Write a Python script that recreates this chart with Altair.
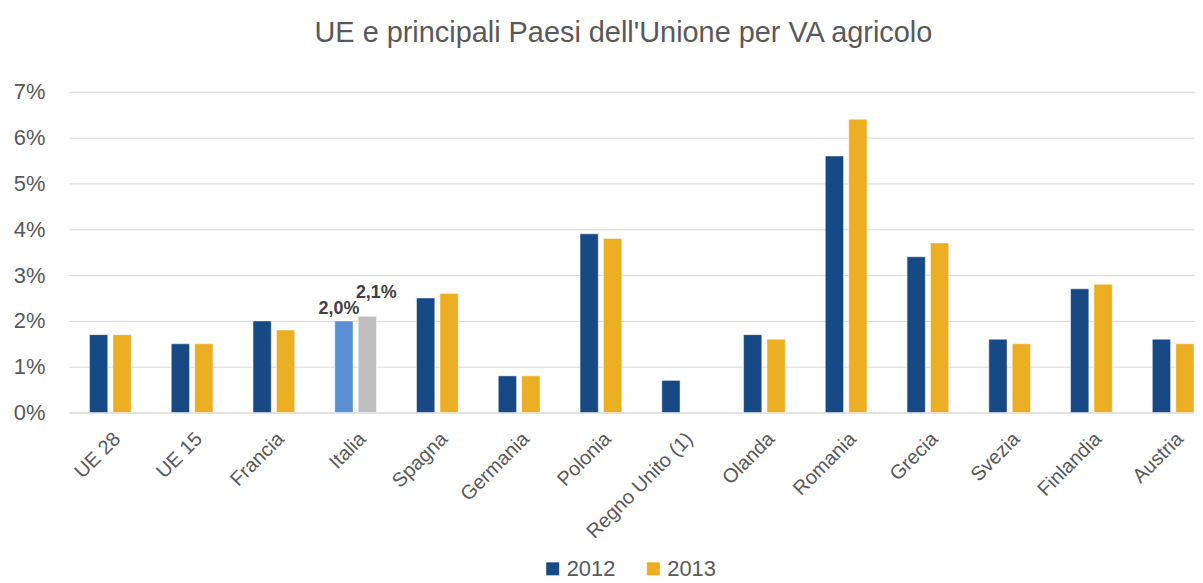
import altair as alt
import pandas as pd

categories = ["UE 28", "UE 15", "Francia", "Italia", "Spagna", "Germania", "Polonia",
              "Regno Unito (1)", "Olanda", "Romania", "Grecia", "Svezia", "Finlandia", "Austria"]
va_2012 = [1.7, 1.5, 2.0, 2.0, 2.5, 0.8, 3.9, 0.7, 1.7, 5.6, 3.4, 1.6, 2.7, 1.6]
va_2013 = [1.7, 1.5, 1.8, 2.1, 2.6, 0.8, 3.8, None, 1.6, 6.4, 3.7, 1.5, 2.8, 1.5]
years = ["2012", "2013"]
highlight = "Italia"

rows = []
for c, a, b in zip(categories, va_2012, va_2013):
    for y, v in zip(years, [a, b]):
        if v is None:
            continue
        key = ("Italia " + y) if c == highlight else y
        label = (f"{v:.1f}".replace(".", ",") + "%") if c == highlight else ""
        rows.append({"Paese": c, "Anno": y, "VA": v, "key": key, "label": label})
df = pd.DataFrame(rows)

FONT = "Liberation Sans"
GREY = "#595959"

x = alt.X("Paese:N", sort=categories, title=None,
          scale=alt.Scale(paddingInner=0.49, paddingOuter=0.127, align=1),
          axis=alt.Axis(labelAngle=-45, labelFontSize=20, labelColor=GREY,
                        labelFont=FONT, ticks=False, domainColor="#d9d9d9",
                        labelPadding=16))
xo = alt.XOffset("Anno:N", sort=years, scale=alt.Scale(paddingInner=0.22))
y = alt.Y("VA:Q", title=None,
          scale=alt.Scale(domain=[0, 7]),
          axis=alt.Axis(values=[0, 1, 2, 3, 4, 5, 6, 7], labelExpr="datum.value + '%'",
                        labelFontSize=22, labelColor=GREY, labelFont=FONT,
                        ticks=False, domain=False, gridColor="#d9d9d9",
                        labelPadding=24))

bars = alt.Chart(df).mark_bar(stroke="#ffffff", strokeWidth=0.8, strokeOpacity=0.6).encode(
    x=x, xOffset=xo, y=y,
    color=alt.Color("key:N",
                    scale=alt.Scale(domain=["2012", "2013", "Italia 2012", "Italia 2013"],
                                    range=["#174A84", "#ECAE22", "#5B8FD6", "#BFBFBF"]),
                    legend=alt.Legend(values=["2012", "2013"], orient="none",
                                      legendX=475, legendY=468, title=None,
                                      direction="horizontal", symbolType="square",
                                      symbolSize=170, labelFontSize=22, labelColor=GREY,
                                      labelFont=FONT, columnPadding=27, symbolStrokeWidth=0,
                                      labelOffset=3))
)

lab12 = alt.Chart(df).transform_filter(
    (alt.datum.label != "") & (alt.datum.Anno == "2012")
).mark_text(fontSize=18, fontWeight="bold", color="#404040", font=FONT,
            baseline="bottom", dx=-5, dy=-3).encode(
    x=x, xOffset=xo, y=y, text="label:N")

lab13 = alt.Chart(df).transform_filter(
    (alt.datum.label != "") & (alt.datum.Anno == "2013")
).mark_text(fontSize=18, fontWeight="bold", color="#404040", font=FONT,
            baseline="bottom", dx=9, dy=-14).encode(
    x=x, xOffset=xo, y=y, text="label:N")

chart = alt.layer(bars, lab12, lab13).properties(
    width=1130, height=322,
    title=alt.Title("UE e principali Paesi dell'Unione per VA agricolo",
                    fontSize=29, font=FONT, fontWeight="normal", color=GREY,
                    offset=33, anchor="middle", dx=-8),
    padding={"left": 5, "top": 10, "right": 0, "bottom": 0}
).configure_view(stroke=None)

chart.save("out.html", embed_options={"renderer": "svg", "actions": False})
